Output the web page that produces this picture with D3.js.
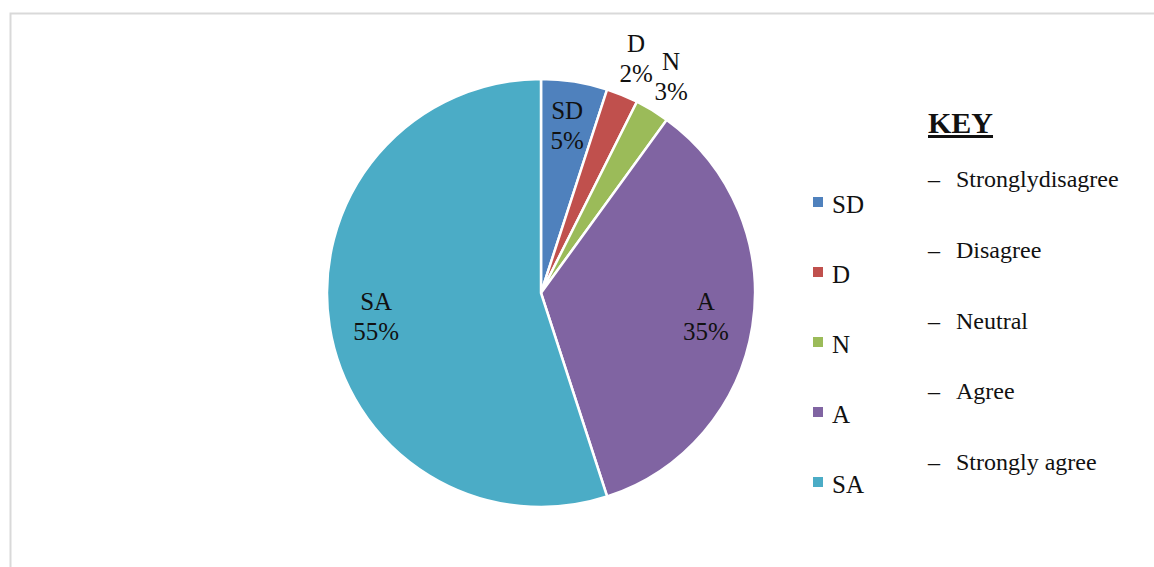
<!DOCTYPE html>
<html>
<head>
<meta charset="utf-8">
<script src="https://cdn.jsdelivr.net/npm/d3@7"></script>
<style>
  body { margin: 0; background: #fff; }
</style>
</head>
<body>
<div id="main-canvas"></div>
<script>
// Data
const categories = ["SD", "D", "N", "A", "SA"];
const shares = [5, 2.4, 2.6, 35, 55];
const colors = ["#4F81BD", "#C0504D", "#9BBB59", "#8064A2", "#4BACC6"];
const keyLabels = ["Stronglydisagree", "Disagree", "Neutral", "Agree", "Strongly agree"];

const width = 1154, height = 567;
const cx = 541, cy = 293, radius = 214;
const serif = "'Liberation Serif', 'Times New Roman', Times, 'DejaVu Serif', serif";

let svg = d3.select("#main-canvas").append("svg")
    .attr("width", width)
    .attr("height", height)
    .style("font-family", serif)

// light frame round the chart area
svg.append("rect")
    .attr("x", 10.5).attr("y", 13.5)
    .attr("width", width + 20).attr("height", height + 20)
    .attr("fill", "none")
    .attr("stroke", "#d9d9d9")
    .attr("stroke-width", 2)

let pie = d3.pie().sort(null).value(d => d.value)
let arcs = pie(categories.map((c, i) => ({ name: c, value: shares[i], color: colors[i] })))

let arc = d3.arc().innerRadius(0).outerRadius(radius)
let inLabel = d3.arc().innerRadius(radius * 0.78).outerRadius(radius * 0.78)
let outLabel = d3.arc().innerRadius(radius * 1.17).outerRadius(radius * 1.17)

let g = svg.append("g").attr("transform", `translate(${cx},${cy})`)

g.selectAll("path")
    .data(arcs)
    .enter().append("path")
    .attr("d", arc)
    .attr("fill", d => d.data.color)
    .attr("stroke", "#fff")
    .attr("stroke-width", 2.5)

// slice labels: small slices sit outside the pie
let labels = g.selectAll("g.lbl")
    .data(arcs)
    .enter().append("g")
    .attr("class", "lbl")
    .attr("transform", d => {
        let p = d.data.value < 4 ? outLabel.centroid(d) : inLabel.centroid(d)
        return `translate(${p[0]},${p[1]})`
    })

labels.append("text")
    .attr("text-anchor", "middle")
    .attr("y", -9)
    .attr("font-size", "25px")
    .attr("fill", "#111")
    .text(d => d.data.name)

labels.append("text")
    .attr("text-anchor", "middle")
    .attr("y", 21)
    .attr("font-size", "25px")
    .attr("fill", "#111")
    .text(d => Math.round(d.data.value) + "%")

// legend
let legendY = d3.scalePoint().domain(categories).range([202, 482])

let legend = svg.append("g")
    .selectAll("g")
    .data(categories)
    .enter().append("g")
    .attr("transform", d => `translate(813,${legendY(d)})`)

legend.append("rect")
    .attr("x", 0).attr("y", -5)
    .attr("width", 10).attr("height", 10)
    .attr("fill", (d, i) => colors[i])

legend.append("text")
    .attr("x", 19).attr("y", 11)
    .attr("font-size", "25px")
    .attr("fill", "#111")
    .text(d => d)

// key block
svg.append("text")
    .attr("x", 928).attr("y", 133)
    .attr("font-size", "30px")
    .attr("font-weight", "bold")
    .attr("text-decoration", "underline")
    .attr("fill", "#111")
    .text("KEY")

let keyY = d3.scalePoint().domain(keyLabels).range([187, 470])

let key = svg.append("g")
    .selectAll("g")
    .data(keyLabels)
    .enter().append("g")
    .attr("transform", d => `translate(928,${keyY(d)})`)

key.append("text")
    .attr("x", 0)
    .attr("font-size", "24px")
    .attr("fill", "#111")
    .text("\u2013")

key.append("text")
    .attr("x", 28)
    .attr("font-size", "24px")
    .attr("fill", "#111")
    .text(d => d)
</script>
</body>
</html>
